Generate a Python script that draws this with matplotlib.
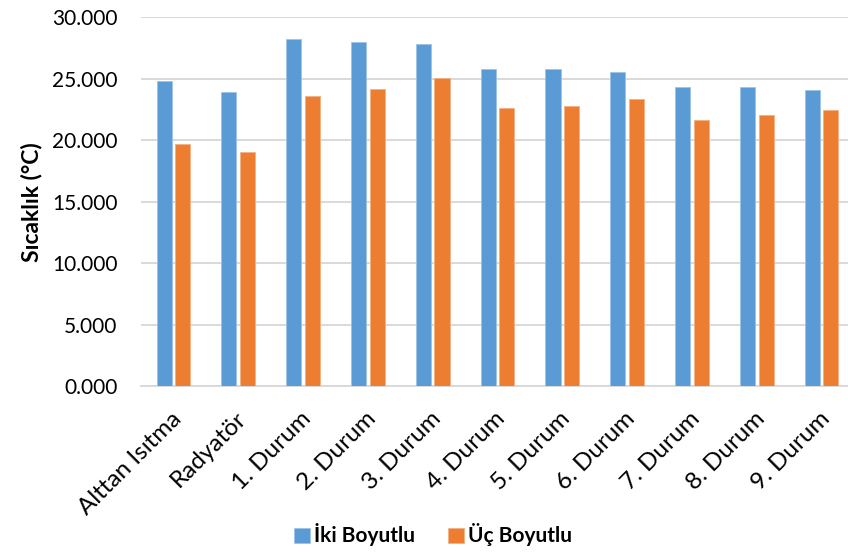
import matplotlib
matplotlib.use("Agg")
import matplotlib.pyplot as plt
import matplotlib.transforms as mtransforms
import numpy as np

categories = ["Alttan Isıtma", "Radyatör", "1. Durum", "2. Durum", "3. Durum",
              "4. Durum", "5. Durum", "6. Durum", "7. Durum", "8. Durum", "9. Durum"]
iki_boyutlu = [24.80, 23.90, 28.24, 28.00, 27.80, 25.82, 25.82, 25.53, 24.36, 24.30, 24.06]
uc_boyutlu = [19.70, 19.02, 23.63, 24.17, 25.04, 22.60, 22.79, 23.36, 21.68, 22.03, 22.49]
yticks = [0, 5, 10, 15, 20, 25, 30]
series_names = ["İki Boyutlu", "Üç Boyutlu"]

plt.rcParams['font.family'] = ['Lato', 'DejaVu Sans']

W, H = 848, 554
fig = plt.figure(figsize=(W / 100, H / 100), dpi=100)
left, right, bottom, top = 141, 854, 386, 17.3
ax = fig.add_axes([left / W, 1 - bottom / H, (right - left) / W, (bottom - top) / H])

x = np.arange(len(categories))
bw = 0.232
off = 0.144
ax.bar(x - off, iki_boyutlu, bw, color="#5B9BD5", label=series_names[0], zorder=3,
       edgecolor="#9DC3E6", linewidth=0.6)
ax.bar(x + off, uc_boyutlu, bw, color="#ED7D31", label=series_names[1], zorder=3,
       edgecolor="#F4B183", linewidth=0.6)

ax.set_xlim(-0.5, len(categories) - 0.5)
ax.set_ylim(0, 30)
ax.set_yticks(yticks)
ax.set_yticklabels([f"{v:.3f}" for v in yticks], fontsize=15, color="#000000")
ax.yaxis.grid(True, color="#D9D9D9", linewidth=1.4, zorder=0)
ax.set_axisbelow(True)
ax.tick_params(axis='y', length=0, pad=17)
ax.tick_params(axis='x', length=0, pad=16)
for s in ["top", "right", "left"]:
    ax.spines[s].set_visible(False)
ax.spines["bottom"].set_color("#D9D9D9")
ax.spines["bottom"].set_linewidth(1.4)

ax.set_xticks(x)
ax.set_xticklabels(categories, rotation=45, ha="right", va="top", rotation_mode="anchor",
                   fontsize=17.5, color="#000000")
shift = mtransforms.ScaledTranslation(-3 / 100, 0, fig.dpi_scale_trans)
for lbl in ax.get_xticklabels():
    lbl.set_transform(lbl.get_transform() + shift)

ax.set_ylabel("Sıcaklık (°C)", fontsize=16.5, fontweight="bold")
ax.yaxis.set_label_coords(-0.139, 0.5)

fig.legend(loc="center", bbox_to_anchor=(433 / W, 1 - 535 / H), ncol=2, frameon=False,
           prop={'size': 15, 'weight': 'bold'}, handlelength=0.75, handleheight=0.75,
           handletextpad=0.2, columnspacing=1.6)

fig.savefig("out.png", dpi=100)
